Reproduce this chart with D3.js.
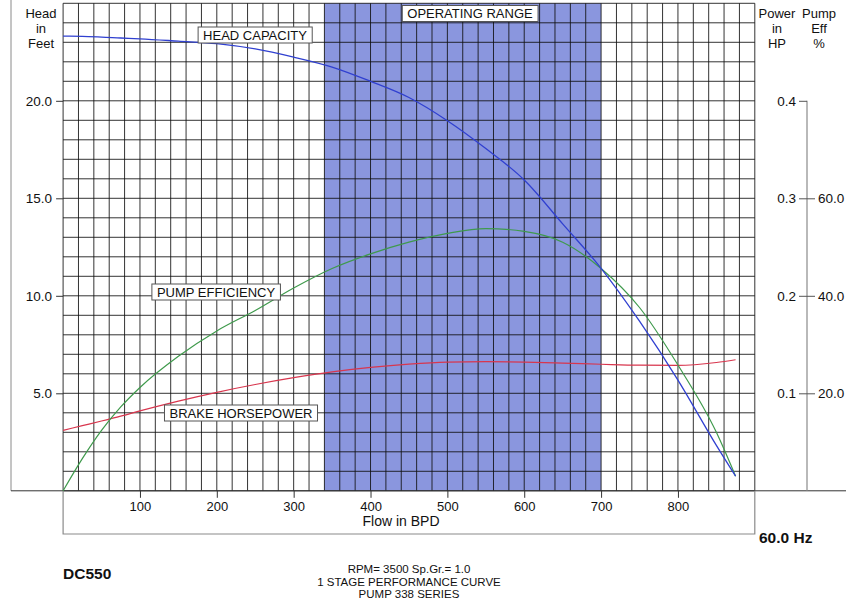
<!DOCTYPE html>
<html>
<head>
<meta charset="utf-8">
<script src="https://cdn.jsdelivr.net/npm/d3@7"></script>
<style>
  html, body { margin: 0; padding: 0; background: #fff; }
  svg { display: block; font-family: Arial, "Liberation Sans", sans-serif; }
</style>
</head>
<body>
<svg id="chart" width="846" height="604"></svg>
<script>
// Pump performance data (flow in barrels per day)
const flow = [0, 25, 50, 75, 100, 150, 200, 250, 300, 350, 400, 450, 500, 550, 600, 650, 700, 750, 800, 850, 875];
const headFeet = [23.32, 23.3, 23.27, 23.22, 23.18, 23.06, 22.93, 22.66, 22.24, 21.73, 21.0, 20.17, 18.98, 17.55, 15.94, 13.69, 11.41, 8.7, 5.68, 2.33, 0.75];
const pumpEffPct = [0, 6.6, 12.4, 17.2, 21.2, 27.6, 32.8, 37.0, 41.6, 45.6, 48.6, 51.0, 52.8, 53.8, 53.2, 51.0, 45.6, 37.6, 25.8, 12.0, 3.0];
const brakeHp = [0.062, 0.0668, 0.0716, 0.0766, 0.082, 0.092, 0.101, 0.109, 0.116, 0.122, 0.1266, 0.130, 0.132, 0.1324, 0.132, 0.131, 0.1298, 0.1288, 0.1286, 0.1316, 0.1344];

const operatingRange = [340, 700];
const flowTicks = [100, 200, 300, 400, 500, 600, 700, 800];
const headTicks = [5, 10, 15, 20];
const hpTicks = [0.1, 0.2, 0.3, 0.4];
const effTicks = [20, 40, 60];

const svg = d3.select("#chart");

// Scales: head 0-25 ft shares the plot height with 0-0.5 HP and 0-100 %
const x = d3.scaleLinear().domain([0, 900]).range([63.1, 754.8]);
const y = d3.scaleLinear().domain([0, 25]).range([490.8, 3.3]);
const yHp = d3.scaleLinear().domain([0, 0.5]).range(y.range());
const yEff = d3.scaleLinear().domain([0, 100]).range(y.range());

const frame = "#8a8a8a";

// Operating range band
svg.append("rect")
  .attr("x", x(operatingRange[0]))
  .attr("y", y(25))
  .attr("width", x(operatingRange[1]) - x(operatingRange[0]))
  .attr("height", y(0) - y(25))
  .attr("fill", "#8a96de");

// Grid
const grid = svg.append("g").attr("stroke", "#111").attr("stroke-opacity", 0.85).attr("stroke-width", 1);
grid.selectAll("line.v").data(d3.range(0, 901, 20)).join("line")
  .attr("class", "v")
  .attr("x1", d => x(d)).attr("x2", d => x(d))
  .attr("y1", y(25)).attr("y2", y(0));
grid.selectAll("line.h").data(d3.range(0, 26, 1)).join("line")
  .attr("class", "h")
  .attr("x1", x(0)).attr("x2", x(900))
  .attr("y1", d => y(d)).attr("y2", d => y(d));

// Outer frame lines and flow-axis box
svg.append("line").attr("x1", 11).attr("x2", 11).attr("y1", 0).attr("y2", y(0)).attr("stroke", frame);
svg.append("line").attr("x1", 11).attr("x2", 846).attr("y1", y(0)).attr("y2", y(0)).attr("stroke", "#333");
svg.append("path")
  .attr("d", `M${x(0)},${y(0)}V534H${x(900)}V${y(0)}`)
  .attr("fill", "none").attr("stroke", frame).attr("stroke-width", 1.2);

// Flow axis
const xAxis = svg.append("g")
  .attr("transform", `translate(0,${y(0)})`)
  .call(d3.axisBottom(x).tickValues(flowTicks).tickSize(7).tickPadding(4).tickFormat(d3.format("d")));
xAxis.select(".domain").remove();
xAxis.selectAll("text").attr("font-size", 13).attr("fill", "#111").attr("font-family", "Arial, 'Liberation Sans', sans-serif");
xAxis.selectAll("line").attr("stroke", "#333");

// Head axis
const yAxis = svg.append("g")
  .attr("transform", `translate(${x(0)},0)`)
  .call(d3.axisLeft(y).tickValues(headTicks).tickSize(7).tickPadding(4).tickFormat(d3.format(".1f")));
yAxis.select(".domain").remove();
yAxis.selectAll("text").attr("font-size", 13.5).attr("fill", "#111").attr("font-family", "Arial, 'Liberation Sans', sans-serif");
yAxis.selectAll("line").attr("stroke", "#333");

// Power and efficiency axes sharing one vertical line
const rx = 807;
svg.append("line").attr("x1", rx).attr("x2", rx).attr("y1", yHp(0.4)).attr("y2", y(0)).attr("stroke", frame).attr("stroke-width", 1.2);
const hpAxis = svg.append("g")
  .attr("transform", `translate(${rx},0)`)
  .call(d3.axisLeft(yHp).tickValues(hpTicks).tickSize(8).tickPadding(3).tickFormat(d3.format(".1f")));
hpAxis.select(".domain").remove();
const effAxis = svg.append("g")
  .attr("transform", `translate(${rx},0)`)
  .call(d3.axisRight(yEff).tickValues(effTicks).tickSize(8).tickPadding(3).tickFormat(d3.format(".1f")));
effAxis.select(".domain").remove();
[hpAxis, effAxis].forEach(a => {
  a.selectAll("text").attr("font-size", 13.5).attr("fill", "#111").attr("font-family", "Arial, 'Liberation Sans', sans-serif");
  a.selectAll("line").attr("stroke", "#555");
});

// Curves
const curve = (vals, ys) => d3.line()
  .x((d, i) => x(flow[i]))
  .y(d => ys(d))
  .curve(d3.curveMonotoneX)(vals);

svg.append("path").attr("d", curve(brakeHp, yHp))
  .attr("fill", "none").attr("stroke", "#d8364e").attr("stroke-width", 1.2);
svg.append("path").attr("d", curve(pumpEffPct, yEff))
  .attr("fill", "none").attr("stroke", "#3f9a4c").attr("stroke-width", 1.2);
svg.append("path").attr("d", curve(headFeet, y))
  .attr("fill", "none").attr("stroke", "#3040d0").attr("stroke-width", 1.3);

// Boxed curve labels
function boxLabel(text, cx, cy) {
  const g = svg.append("g");
  const rect = g.append("rect");
  const t = g.append("text")
    .attr("x", cx).attr("y", cy)
    .attr("text-anchor", "middle").attr("dominant-baseline", "central")
    .attr("font-size", 13).attr("fill", "#111")
    .text(text);
  const b = t.node().getBBox();
  rect.attr("x", b.x - 5).attr("y", cy - 8).attr("width", b.width + 10).attr("height", 16)
    .attr("fill", "#fff").attr("stroke", "#555").attr("stroke-width", 1);
}
boxLabel("OPERATING RANGE", 470, 13.5);
boxLabel("HEAD CAPACITY", 255, 35);
boxLabel("PUMP EFFICIENCY", 216, 292);
boxLabel("BRAKE HORSEPOWER", 241, 413);

// Axis titles
function lines(arr, cx, y0, step, size) {
  arr.forEach((s, i) => svg.append("text")
    .attr("x", cx).attr("y", y0 + i * step)
    .attr("text-anchor", "middle").attr("dominant-baseline", "central")
    .attr("font-size", size).attr("fill", "#111").text(s));
}
lines(["Head", "in", "Feet"], 41, 13, 15, 13);
lines(["Power", "in", "HP"], 777, 13, 15, 13);
lines(["Pump", "Eff", "%"], 819, 13, 15, 13);

svg.append("text").attr("x", 401).attr("y", 521)
  .attr("text-anchor", "middle").attr("dominant-baseline", "central")
  .attr("font-size", 14).attr("fill", "#111").text("Flow in BPD");

svg.append("text").attr("x", 759).attr("y", 537)
  .attr("dominant-baseline", "central")
  .attr("font-size", 15.5).attr("font-weight", "bold").attr("fill", "#111").text("60.0 Hz");

svg.append("text").attr("x", 63).attr("y", 573)
  .attr("dominant-baseline", "central")
  .attr("font-size", 15.5).attr("font-weight", "bold").attr("fill", "#111").text("DC550");

lines(["RPM= 3500 Sp.Gr.= 1.0", "1 STAGE PERFORMANCE CURVE", "PUMP 338 SERIES"], 409, 569, 12.5, 11.5);
</script>
</body>
</html>
